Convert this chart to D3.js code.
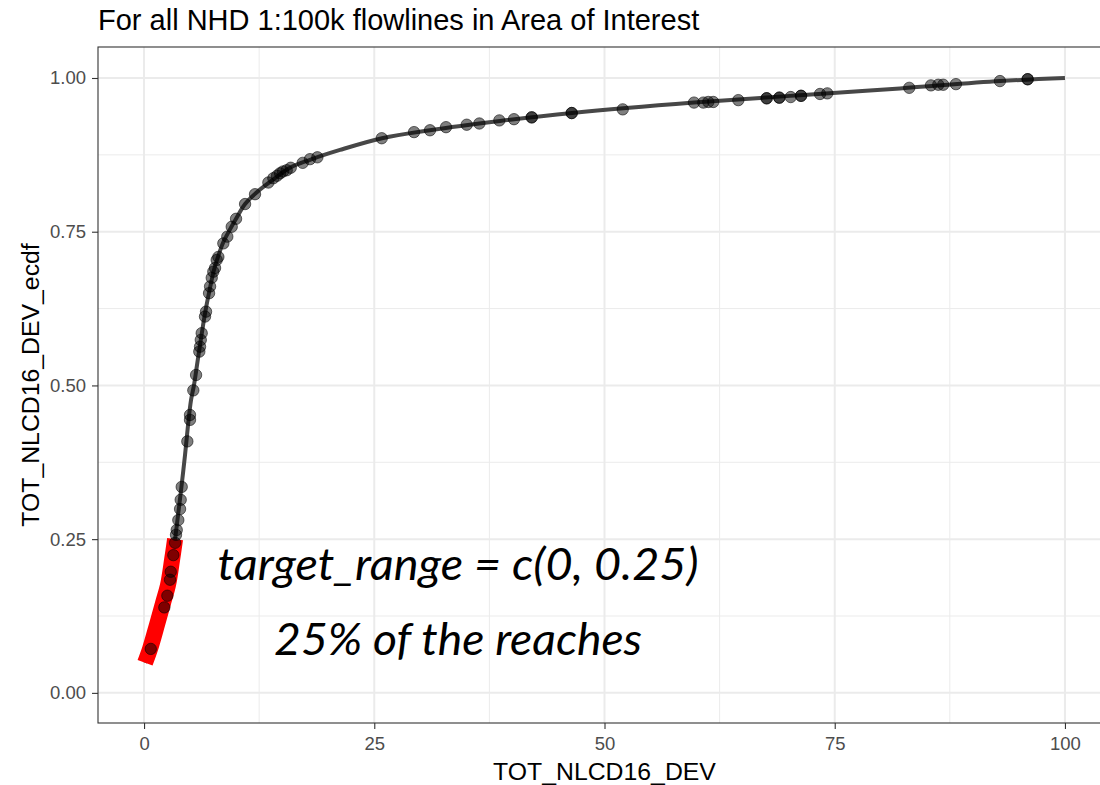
<!DOCTYPE html>
<html>
<head>
<meta charset="utf-8">
<script src="https://cdn.jsdelivr.net/npm/d3@7"></script>
<style>
  body { margin: 0; background: #fff; }
  svg { display: block; font-family: "Liberation Sans", Arial, sans-serif; }
</style>
</head>
<body>
<svg id="ecdf"></svg>
<script>
////////////////
// ECDF OF TOT_NLCD16_DEV
////////////////

// The smooth ecdf line (x value, ecdf)
var lineX = [0.11, 0.65, 1.41, 2.06, 2.61, 3.04, 3.37, 3.69, 4.02, 4.45, 4.78, 5.10, 5.43, 5.75, 6.08, 6.41, 6.73, 7.17, 7.60, 8.03, 8.58, 9.23, 9.99, 10.97, 12.16, 13.68, 15.85, 18.02, 21.28, 25.84, 31.05, 38.65, 46.47, 59.72, 71.23, 82.08, 92.94, 100];
var lineY = [0.049, 0.0715, 0.111, 0.146, 0.176, 0.216, 0.25, 0.289, 0.330, 0.387, 0.436, 0.476, 0.501, 0.533, 0.566, 0.598, 0.626, 0.659, 0.688, 0.709, 0.732, 0.751, 0.771, 0.795, 0.813, 0.831, 0.854, 0.867, 0.883, 0.902, 0.915, 0.930, 0.943, 0.960, 0.972, 0.983, 0.995, 1.000];

// The flowlines themselves (some repeat, that's why a few dots look darker)
var pointX = [0.73, 2.20, 2.53, 2.82, 2.90, 3.18, 3.37, 3.47, 3.55, 3.72, 3.91, 3.98, 4.09, 4.70, 4.99, 4.99, 5.35, 5.65, 6.00, 6.08, 6.16, 6.26, 6.62, 6.73, 7.06, 7.17, 7.35, 7.52, 7.71, 7.89, 8.07, 8.61, 9.04, 9.52, 9.99, 10.97, 12.05, 13.50, 14.04, 14.44, 14.77, 15.09, 15.49, 15.93, 17.23, 18.02, 18.82, 25.81, 29.32, 31.05, 32.79, 35.04, 36.41, 38.58, 40.17, 42.10, 42.10, 46.44, 46.44, 51.98, 59.72, 60.73, 61.27, 61.81, 64.53, 67.61, 67.61, 68.98, 68.98, 70.22, 71.34, 71.34, 73.40, 74.19, 83.09, 85.45, 86.24, 86.78, 88.16, 92.94, 95.95, 95.95];
var pointY = [0.0715, 0.139, 0.158, 0.184, 0.197, 0.224, 0.244, 0.257, 0.265, 0.281, 0.299, 0.314, 0.335, 0.409, 0.444, 0.452, 0.492, 0.517, 0.555, 0.563, 0.574, 0.585, 0.612, 0.620, 0.650, 0.661, 0.675, 0.685, 0.691, 0.704, 0.709, 0.731, 0.742, 0.758, 0.771, 0.795, 0.811, 0.830, 0.837, 0.841, 0.845, 0.848, 0.850, 0.854, 0.862, 0.868, 0.871, 0.902, 0.912, 0.915, 0.920, 0.924, 0.926, 0.931, 0.933, 0.936, 0.936, 0.943, 0.943, 0.949, 0.960, 0.960, 0.961, 0.961, 0.964, 0.967, 0.967, 0.968, 0.968, 0.969, 0.971, 0.971, 0.974, 0.975, 0.984, 0.988, 0.989, 0.989, 0.990, 0.995, 0.998, 0.998];

// Ticks
var xTicks = [0, 25, 50, 75, 100];
var yTicks = [0, 0.25, 0.5, 0.75, 1];
var yTickLabels = ['0.00', '0.25', '0.50', '0.75', '1.00'];

// The highlighted bit
var targetRange = [0, 0.25];
var noteLines = ['target_range = c(0, 0.25)', '25% of the reaches'];

// General vars
var width = 1100,
    height = 785,
    panel = {left: 98, right: 1111, top: 47, bottom: 723};

var x = d3.scaleLinear().domain([-5, 105]).range([panel.left, panel.right]);
var y = d3.scaleLinear().domain([-0.049, 1.0504]).range([panel.bottom, panel.top]);

var svg = d3.select('svg#ecdf')
  .attr('width', width)
  .attr('height', height);

// Title
svg.append('text')
  .attr('x', panel.left)
  .attr('y', 30)
  .style('font-size', '29px')
  .style('fill', '#000')
  .text('For all NHD 1:100k flowlines in Area of Interest');

// Grid, minor first then major
var minorX = xTicks.slice(0, -1).map(function(d){ return d + 12.5; });
var minorY = yTicks.slice(0, -1).map(function(d){ return d + 0.125; });

var grid = svg.append('g');
grid.selectAll('.minx').data(minorX).enter().append('line')
  .attr('x1', x).attr('x2', x)
  .attr('y1', panel.top).attr('y2', panel.bottom)
  .attr('stroke', '#ebebeb').attr('stroke-width', 1);
grid.selectAll('.miny').data(minorY).enter().append('line')
  .attr('y1', y).attr('y2', y)
  .attr('x1', panel.left).attr('x2', panel.right)
  .attr('stroke', '#ebebeb').attr('stroke-width', 1);
grid.selectAll('.majx').data(xTicks).enter().append('line')
  .attr('x1', x).attr('x2', x)
  .attr('y1', panel.top).attr('y2', panel.bottom)
  .attr('stroke', '#ebebeb').attr('stroke-width', 2);
grid.selectAll('.majy').data(yTicks).enter().append('line')
  .attr('y1', y).attr('y2', y)
  .attr('x1', panel.left).attr('x2', panel.right)
  .attr('stroke', '#ebebeb').attr('stroke-width', 2);

// The line - catmull-rom keeps the steep bit smooth
var lineData = lineX.map(function(d, i){ return [d, lineY[i]]; });
var line = d3.line()
  .x(function(d){ return x(d[0]); })
  .y(function(d){ return y(d[1]); })
  .curve(d3.curveCatmullRom.alpha(0.5));

svg.append('path')
  .datum(lineData)
  .attr('d', line)
  .attr('fill', 'none')
  .attr('stroke', '#474747')
  .attr('stroke-width', 4);

// Red band over the target range
svg.append('path')
  .datum(lineData.filter(function(d){ return d[1] >= targetRange[0] && d[1] <= targetRange[1]; }))
  .attr('d', line)
  .attr('fill', 'none')
  .attr('stroke', '#ff0000')
  .attr('stroke-width', 16)
  .attr('stroke-linecap', 'butt');

// Points
svg.append('g').selectAll('circle')
  .data(pointX.map(function(d, i){ return [d, pointY[i]]; }))
  .enter().append('circle')
  .attr('cx', function(d){ return x(d[0]); })
  .attr('cy', function(d){ return y(d[1]); })
  .attr('r', 5.7)
  .attr('fill', '#000')
  .attr('fill-opacity', 0.5)
  .attr('stroke', '#000')
  .attr('stroke-opacity', 0.55)
  .attr('stroke-width', 1);

// Panel border (left, top, bottom - right side runs off the picture)
svg.append('rect')
  .attr('x', panel.left).attr('y', panel.top)
  .attr('width', panel.right - panel.left).attr('height', panel.bottom - panel.top)
  .attr('fill', 'none')
  .attr('stroke', '#333')
  .attr('stroke-width', 1.1);

// Axes
var xAxis = svg.append('g')
  .attr('transform', 'translate(0,' + panel.bottom + ')')
  .call(d3.axisBottom(x).tickValues(xTicks).tickSize(6).tickPadding(8).tickFormat(d3.format('d')));
var yAxis = svg.append('g')
  .attr('transform', 'translate(' + panel.left + ',0)')
  .call(d3.axisLeft(y).tickValues(yTicks).tickSize(6).tickPadding(6).tickFormat(function(d, i){ return yTickLabels[i]; }));

[xAxis, yAxis].forEach(function(a){
  a.select('.domain').remove();
  a.selectAll('line').attr('stroke', '#333').attr('stroke-width', 1.1);
  a.selectAll('text')
    .style('font-family', '"Liberation Sans", Arial, sans-serif')
    .style('font-size', '18.5px')
    .style('fill', '#4d4d4d');
});

// Axis titles
svg.append('text')
  .attr('x', (panel.left + panel.right) / 2)
  .attr('y', 780)
  .attr('text-anchor', 'middle')
  .style('font-size', '24.8px')
  .text('TOT_NLCD16_DEV');

svg.append('text')
  .attr('transform', 'translate(39,' + ((panel.top + panel.bottom) / 2) + ') rotate(-90)')
  .attr('text-anchor', 'middle')
  .style('font-size', '24.8px')
  .text('TOT_NLCD16_DEV_ecdf');

// The annotation
var noteWidths = [481, 368];
svg.selectAll('.note').data(noteLines).enter().append('text')
  .attr('class', 'note')
  .attr('x', x(34.1))
  .attr('y', function(d, i){ return y([0.184, 0.062][i]); })
  .attr('text-anchor', 'middle')
  .attr('textLength', function(d, i){ return noteWidths[i]; })
  .attr('lengthAdjust', 'spacingAndGlyphs')
  .style('font-family', 'Lato, "Open Sans", sans-serif')
  .style('font-style', 'italic')
  .style('font-size', '44px')
  .style('fill', '#000')
  .text(function(d){ return d; });
</script>
</body>
</html>
